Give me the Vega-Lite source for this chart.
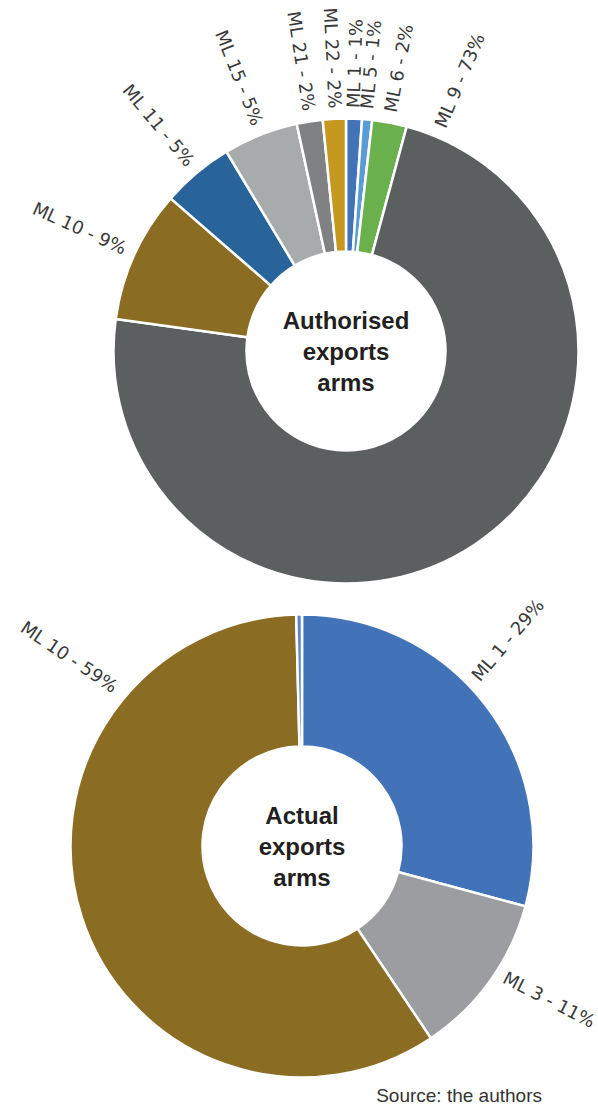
{
  "$schema": "https://vega.github.io/schema/vega-lite/v6.json",
  "autosize": "pad",
  "padding": {"left": 16, "top": 7, "right": 0, "bottom": 0},
  "spacing": 30,
  "bounds": "flush",
  "config": {"view": {"stroke": null}},
  "datasets": {
    "authorised": [
      {"category": "ML 1", "value": 1.1, "order": 1},
      {"category": "ML 5", "value": 0.7, "order": 2},
      {"category": "ML 6", "value": 2.4, "order": 3},
      {"category": "ML 9", "value": 73.0, "order": 4},
      {"category": "ML 10", "value": 9.2, "order": 5},
      {"category": "ML 11", "value": 5.0, "order": 6},
      {"category": "ML 15", "value": 5.2, "order": 7},
      {"category": "ML 21", "value": 1.8, "order": 8},
      {"category": "ML 22", "value": 1.6, "order": 9}
    ],
    "actual": [
      {"category": "ML 1", "value": 29.2, "order": 1},
      {"category": "ML 3", "value": 11.4, "order": 2},
      {"category": "ML 10", "value": 59.0, "order": 3},
      {"category": "Other", "value": 0.4, "order": 4}
    ]
  },
  "vconcat": [
    {
      "width": 502,
      "height": 466,
      "layer": [
        {
          "data": {"name": "authorised"},
          "transform": [
            {"stack": "value", "groupby": [], "sort": [{"field": "order"}], "as": ["v0", "v1"]}
          ],
          "mark": {"type": "arc", "outerRadius": 232.5, "innerRadius": 99.5, "stroke": "#ffffff", "strokeWidth": 2.5},
          "encoding": {
            "theta": {"field": "v0", "type": "quantitative", "scale": {"domain": [0, 100]}},
            "theta2": {"field": "v1"},
            "color": {
              "field": "category", "type": "nominal", "legend": null,
              "scale": {
                "domain": ["ML 1", "ML 3", "ML 5", "ML 6", "ML 9", "ML 10", "ML 11", "ML 15", "ML 21", "ML 22", "Other"],
                "range": ["#4273b9", "#9b9da0", "#5b9bd5", "#6ab04c", "#5b5f60", "#8b6c23", "#28649a", "#a8abac", "#7f8182", "#c6981f", "#5b87c8"]
              }
            }
          }
        },
        {
          "data": {"name": "authorised"},
          "transform": [
            {"stack": "value", "groupby": [], "sort": [{"field": "order"}], "as": ["v0", "v1"]},
            {"calculate": "datum.value > 50 ? datum.v0 + 2.2 : (datum.v0 + datum.v1) / 2", "as": "pos"},
            {"calculate": "datum.pos < 50 ? datum.pos * 3.6 - 90 : datum.pos * 3.6 - 270", "as": "rot"},
            {"calculate": "datum.category + ' - ' + format(datum.value, '.0f') + '%'", "as": "label"},
            {"filter": "datum.pos < 50"}
          ],
          "mark": {"type": "text", "radius": 243, "align": "left", "baseline": "middle", "font": "DejaVu Sans", "fontSize": 18, "color": "#3a3a3a"},
          "encoding": {
            "theta": {"field": "pos", "type": "quantitative", "stack": null, "scale": {"domain": [0, 100]}},
            "angle": {"field": "rot", "type": "quantitative", "scale": null},
            "text": {"field": "label"}
          }
        },
        {
          "data": {"name": "authorised"},
          "transform": [
            {"stack": "value", "groupby": [], "sort": [{"field": "order"}], "as": ["v0", "v1"]},
            {"calculate": "datum.value > 50 ? datum.v0 + 2.2 : (datum.v0 + datum.v1) / 2", "as": "pos"},
            {"calculate": "datum.pos < 50 ? datum.pos * 3.6 - 90 : datum.pos * 3.6 - 270", "as": "rot"},
            {"calculate": "datum.category + ' - ' + format(datum.value, '.0f') + '%'", "as": "label"},
            {"filter": "datum.pos >= 50"}
          ],
          "mark": {"type": "text", "radius": 243, "align": "right", "baseline": "middle", "font": "DejaVu Sans", "fontSize": 18, "color": "#3a3a3a"},
          "encoding": {
            "theta": {"field": "pos", "type": "quantitative", "stack": null, "scale": {"domain": [0, 100]}},
            "angle": {"field": "rot", "type": "quantitative", "scale": null},
            "text": {"field": "label"}
          }
        },
        {
          "data": {"values": [{"title": ["Authorised", "exports", "arms"]}]},
          "mark": {"type": "text", "align": "center", "baseline": "middle", "dy": -29, "font": "Liberation Sans", "fontWeight": "bold", "fontSize": 24, "lineHeight": 31, "color": "#231f20"},
          "encoding": {"text": {"field": "title"}}
        }
      ]
    },
    {
      "width": 414,
      "height": 464,
      "title": {"text": "Source: the authors", "orient": "bottom", "anchor": "end", "frame": "group", "dx": 33, "offset": 4, "font": "Liberation Sans", "fontSize": 19, "fontWeight": "normal", "color": "#333333"},
      "layer": [
        {
          "data": {"name": "actual"},
          "transform": [
            {"stack": "value", "groupby": [], "sort": [{"field": "order"}], "as": ["v0", "v1"]}
          ],
          "mark": {"type": "arc", "outerRadius": 231.5, "innerRadius": 99.5, "stroke": "#ffffff", "strokeWidth": 2.5},
          "encoding": {
            "theta": {"field": "v0", "type": "quantitative", "scale": {"domain": [0, 100]}},
            "theta2": {"field": "v1"},
            "color": {
              "field": "category", "type": "nominal", "legend": null,
              "scale": {
                "domain": ["ML 1", "ML 3", "ML 5", "ML 6", "ML 9", "ML 10", "ML 11", "ML 15", "ML 21", "ML 22", "Other"],
                "range": ["#4273b9", "#9b9da0", "#5b9bd5", "#6ab04c", "#5b5f60", "#8b6c23", "#28649a", "#a8abac", "#7f8182", "#c6981f", "#5b87c8"]
              }
            }
          }
        },
        {
          "data": {"name": "actual"},
          "transform": [
            {"stack": "value", "groupby": [], "sort": [{"field": "order"}], "as": ["v0", "v1"]},
            {"filter": "datum.value >= 1"},
            {"calculate": "datum.value > 50 ? datum.v1 - 13.5 : datum.v0 + 0.44 * datum.value", "as": "pos"},
            {"calculate": "datum.pos < 50 ? datum.pos * 3.6 - 96 : datum.pos * 3.6 - 276", "as": "rot"},
            {"calculate": "datum.category + ' - ' + format(datum.value, '.0f') + '%'", "as": "label"},
            {"filter": "datum.pos < 50"}
          ],
          "mark": {"type": "text", "radius": 241, "align": "left", "baseline": "middle", "font": "DejaVu Sans", "fontSize": 18, "color": "#3a3a3a"},
          "encoding": {
            "theta": {"field": "pos", "type": "quantitative", "stack": null, "scale": {"domain": [0, 100]}},
            "angle": {"field": "rot", "type": "quantitative", "scale": null},
            "text": {"field": "label"}
          }
        },
        {
          "data": {"name": "actual"},
          "transform": [
            {"stack": "value", "groupby": [], "sort": [{"field": "order"}], "as": ["v0", "v1"]},
            {"filter": "datum.value >= 1"},
            {"calculate": "datum.value > 50 ? datum.v1 - 13.5 : datum.v0 + 0.44 * datum.value", "as": "pos"},
            {"calculate": "datum.pos < 50 ? datum.pos * 3.6 - 96 : datum.pos * 3.6 - 276", "as": "rot"},
            {"calculate": "datum.category + ' - ' + format(datum.value, '.0f') + '%'", "as": "label"},
            {"filter": "datum.pos >= 50"}
          ],
          "mark": {"type": "text", "radius": 244, "align": "right", "baseline": "middle", "font": "DejaVu Sans", "fontSize": 18, "color": "#3a3a3a"},
          "encoding": {
            "theta": {"field": "pos", "type": "quantitative", "stack": null, "scale": {"domain": [0, 100]}},
            "angle": {"field": "rot", "type": "quantitative", "scale": null},
            "text": {"field": "label"}
          }
        },
        {
          "data": {"values": [{"title": ["Actual", "exports", "arms"]}]},
          "mark": {"type": "text", "align": "center", "baseline": "middle", "dy": -29, "font": "Liberation Sans", "fontWeight": "bold", "fontSize": 24, "lineHeight": 31, "color": "#231f20"},
          "encoding": {"text": {"field": "title"}}
        }
      ]
    }
  ]
}
